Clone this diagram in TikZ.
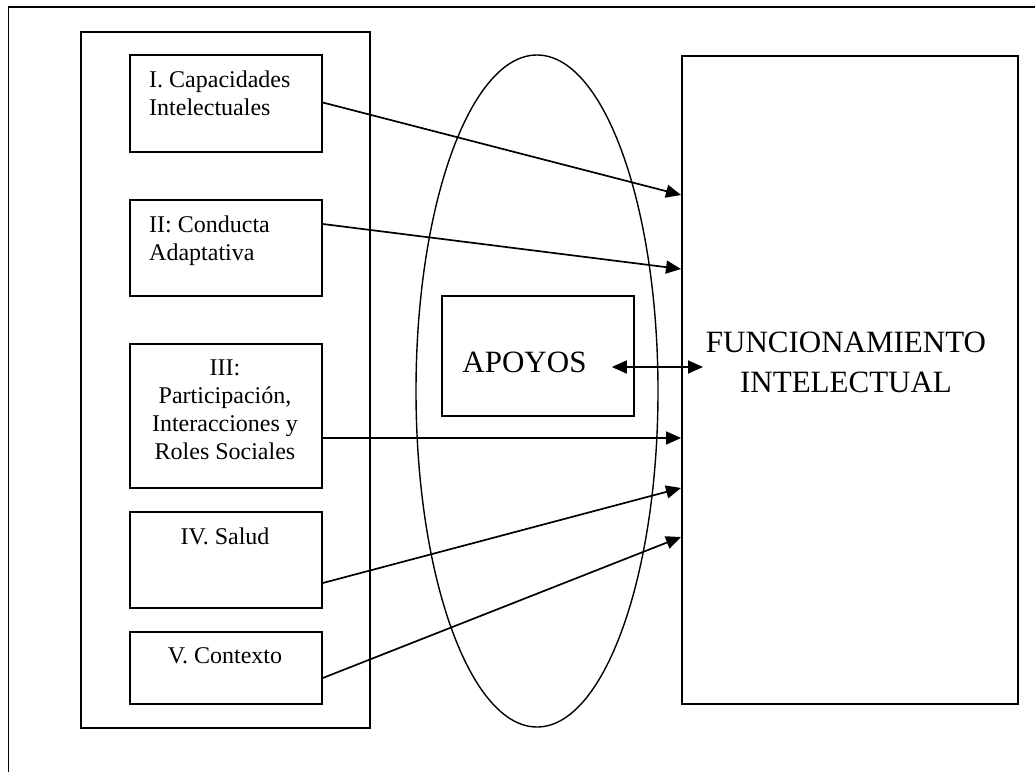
\documentclass[tikz,border=0pt]{standalone}
\usepackage{fontspec}
\setmainfont{Liberation Serif}
\usetikzlibrary{shapes.geometric,arrows.meta,calc}
\begin{document}
\begin{tikzpicture}[x=1pt,y=-1pt,
  frame/.style={draw=black,line width=1.8pt,inner sep=0pt,anchor=north west},
  boxtext/.style={inner sep=0pt,anchor=base,font=\fontsize{24}{28}\selectfont,align=center},
  bigtext/.style={inner sep=0pt,anchor=base,font=\fontsize{31}{40}\selectfont,align=center},
  conn/.style={line width=1.7pt,-{Triangle[length=15pt,width=13pt]}},
  dconn/.style={line width=1.7pt,{Triangle[length=15pt,width=13pt]}-{Triangle[length=15pt,width=13pt]}}]
\useasboundingbox (0,0) rectangle (1035,771);
% outer frame (only left and top sides visible)
\draw[line width=1.8pt] (8.5,775) -- (8.5,7) -- (1040,7);
% ellipse
\node[draw=black,line width=1.4pt,ellipse,inner sep=0pt,minimum width=242pt,minimum height=672pt] (ell) at (537,391) {};
% left container
\node[frame,minimum width=289pt,minimum height=696pt] (cont) at (80,31) {};
% boxes
\node[frame,minimum width=192pt,minimum height=97pt] (b1) at (129,54) {};
\node[frame,minimum width=192pt,minimum height=96pt] (b2) at (129,199) {};
\node[frame,minimum width=192pt,minimum height=144pt] (b3) at (129,343) {};
\node[frame,minimum width=192pt,minimum height=96pt] (b4) at (129,511) {};
\node[frame,minimum width=192pt,minimum height=72pt] (b5) at (129,631) {};
% APOYOS and big box
\node[frame,minimum width=192pt,minimum height=120pt] (ap) at (441,295) {};
\node[frame,minimum width=336pt,minimum height=648pt] (F) at (681,55) {};
% texts (base anchor = baseline of last line)
\node[boxtext,anchor=base west,align=left] (t1) at (149,115) {I. Capacidades\\Intelectuales};
\node[boxtext,anchor=base west,align=left] (t2) at (149,260) {II: Conducta\\Adaptativa};
\node[boxtext] (t3) at (225,459) {III:\\Participación,\\Interacciones y\\Roles Sociales};
\node[boxtext] (t4) at (225,544) {IV. Salud};
\node[boxtext] (t5) at (225,663) {V. Contexto};
\node[bigtext] (tA) at (524.5,372) {APOYOS};
\node[bigtext] (tF) at (846,392) {FUNCIONAMIENTO\\INTELECTUAL};
% connectors
\draw[conn] ([yshift=-48.5pt]b1.north east) -- ([yshift=-140pt]F.north west);
\draw[conn] ([yshift=-25pt]b2.north east) -- ([yshift=-214pt]F.north west);
\draw[conn] ([yshift=-95pt]b3.north east) -- ([yshift=-383pt]F.north west);
\draw[conn] ([yshift=-72pt]b4.north east) -- ([yshift=-433pt]F.north west);
\draw[conn] ([yshift=-47pt]b5.north east) -- ([yshift=-482pt]F.north west);
\draw[dconn] ([xshift=-23pt,yshift=-72pt]ap.north east) -- ([xshift=22pt,yshift=-312pt]F.north west);
\end{tikzpicture}
\end{document}
